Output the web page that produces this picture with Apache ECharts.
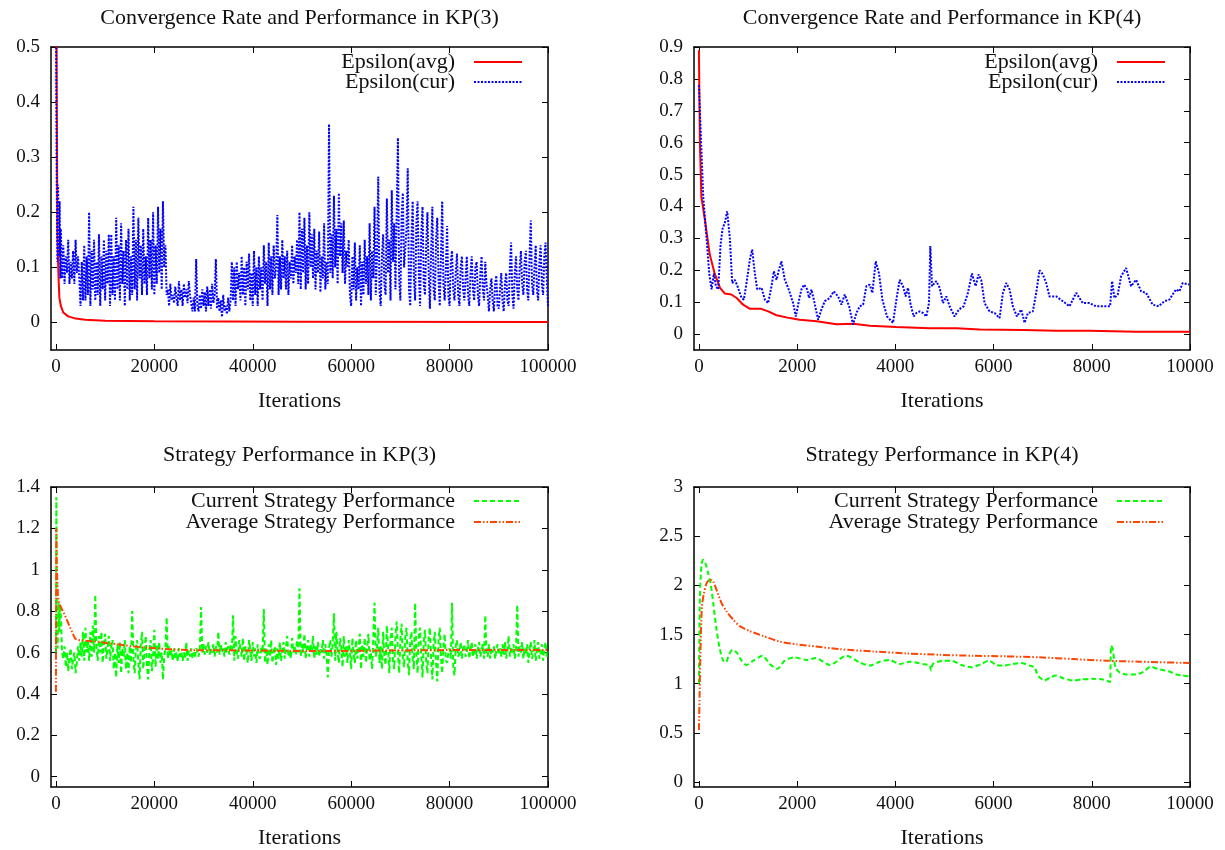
<!DOCTYPE html>
<html>
<head>
<meta charset="utf-8">
<script src="https://cdn.jsdelivr.net/npm/echarts@6/dist/echarts.min.js"></script>
<style>
html,body{margin:0;padding:0;background:#fff;}
#chart{width:1225px;height:850px;}
</style>
</head>
<body>
<div id="chart"></div>
<script>
// ---------------- DATA ----------------
const titles = [
  'Convergence Rate and Performance in KP(3)',
  'Convergence Rate and Performance in KP(4)',
  'Strategy Performance in KP(3)',
  'Strategy Performance in KP(4)'
];
const xName = 'Iterations';
const kp3XTicks = [0, 20000, 40000, 60000, 80000, 100000];
const kp4XTicks = [0, 2000, 4000, 6000, 8000, 10000];
const epsKp3YTicks = [0, 0.1, 0.2, 0.3, 0.4, 0.5];
const epsKp4YTicks = [0, 0.1, 0.2, 0.3, 0.4, 0.5, 0.6, 0.7, 0.8, 0.9];
const perfKp3YTicks = [0, 0.2, 0.4, 0.6, 0.8, 1, 1.2, 1.4];
const perfKp4YTicks = [0, 0.5, 1, 1.5, 2, 2.5, 3];

// KP(3) epsilon(avg)
const kp3AvgIter = [0,150,300,500,700,1000,1500,2500,4000,6000,10000,20000,50000,100000];
const kp3AvgVal  = [0.9,0.45,0.16,0.09,0.045,0.03,0.018,0.011,0.007,0.005,0.003,0.002,0.0015,0.001];

// KP(3) sampling grid for the noisy series: every 250 iterations from 1000
const kp3SampleStart = 1000;
const kp3SampleStep = 250;

// KP(3) epsilon(cur): first iterations, then sampled values (one row = 5000 iterations)
const kp3CurHeadIter = [0,150,300,450,600,750,900];
const kp3CurHeadVal  = [0.62,0.27,0.11,0.25,0.12,0.22,0.08];
const kp3CurVals = [
  0.17,0.08,0.14,0.07,0.12,0.09,0.15,0.07,0.11,0.08,0.13,0.07,0.15,0.09,0.12,0.08,0.03,0.11,0.04,0.14,
  0.04,0.12,0.05,0.20,0.03,0.13,0.06,0.15,0.04,0.11,0.05,0.16,0.03,0.12,0.06,0.15,0.04,0.13,0.07,0.16,
  0.03,0.16,0.05,0.12,0.04,0.19,0.06,0.14,0.04,0.18,0.07,0.13,0.03,0.15,0.06,0.17,0.04,0.12,0.05,0.21,
  0.06,0.15,0.04,0.19,0.08,0.14,0.05,0.17,0.07,0.12,0.05,0.19,0.08,0.15,0.06,0.20,0.05,0.14,0.07,0.21,
  0.09,0.17,0.06,0.22,0.10,0.14,0.05,0.06,0.03,0.07,0.04,0.05,0.035,0.065,0.045,0.03,0.075,0.04,0.06,0.03,
  0.07,0.045,0.06,0.035,0.075,0.05,0.035,0.02,0.045,0.02,0.115,0.03,0.02,0.05,0.025,0.06,0.03,0.055,0.02,0.065,
  0.03,0.06,0.025,0.07,0.035,0.05,0.115,0.025,0.045,0.02,0.04,0.01,0.05,0.02,0.03,0.015,0.045,0.02,0.04,0.11,
  0.04,0.1,0.03,0.11,0.06,0.09,0.04,0.12,0.05,0.1,0.03,0.11,0.06,0.125,0.04,0.09,0.03,0.13,0.05,0.1,
  0.03,0.12,0.06,0.1,0.04,0.14,0.07,0.11,0.03,0.145,0.06,0.12,0.05,0.14,0.08,0.1,0.195,0.05,0.12,0.06,
  0.15,0.08,0.12,0.06,0.13,0.05,0.11,0.08,0.14,0.07,0.12,0.09,0.15,0.07,0.2,0.06,0.17,0.09,0.19,0.06,
  0.14,0.07,0.2,0.1,0.16,0.08,0.17,0.06,0.13,0.09,0.165,0.055,0.12,0.08,0.18,0.06,0.11,0.07,0.36,0.09,
  0.16,0.08,0.23,0.1,0.17,0.07,0.235,0.12,0.18,0.09,0.185,0.07,0.13,0.1,0.15,0.05,0.03,0.12,0.06,0.145,
  0.04,0.1,0.06,0.14,0.03,0.11,0.05,0.15,0.07,0.12,0.05,0.18,0.04,0.13,0.08,0.21,0.05,0.12,0.265,0.06,
  0.03,0.12,0.16,0.07,0.05,0.225,0.09,0.15,0.04,0.24,0.11,0.18,0.06,0.2,0.335,0.08,0.04,0.19,0.235,0.1,
  0.1,0.17,0.28,0.06,0.03,0.15,0.22,0.08,0.04,0.18,0.22,0.09,0.03,0.16,0.21,0.07,0.05,0.14,0.2,0.09,
  0.025,0.13,0.21,0.06,0.04,0.15,0.19,0.08,0.03,0.12,0.22,0.07,0.04,0.1,0.175,0.05,0.03,0.11,0.13,0.06,
  0.04,0.09,0.125,0.05,0.03,0.1,0.12,0.06,0.04,0.08,0.12,0.05,0.03,0.09,0.12,0.06,0.04,0.1,0.11,0.05,
  0.03,0.09,0.12,0.06,0.04,0.11,0.07,0.05,0.02,0.06,0.08,0.04,0.02,0.07,0.085,0.03,0.025,0.06,0.09,0.04,
  0.02,0.07,0.09,0.04,0.03,0.1,0.145,0.05,0.025,0.09,0.12,0.06,0.04,0.1,0.13,0.07,0.05,0.11,0.13,0.06,
  0.04,0.12,0.185,0.07,0.05,0.1,0.14,0.06,0.04,0.11,0.14,0.07,0.05,0.12,0.145,0.08,0.03
];

// KP(4) epsilon(avg)
const kp4AvgIter = [0,20,50,120,220,320,430,530,660,770,900,1040,1270,1410,1580,1850,2050,2400,2800,3140,3480,4020,4700,5240,5720,6600,7280,7950,8900,10000];
const kp4AvgVal  = [0.89,0.6,0.43,0.36,0.25,0.19,0.145,0.127,0.124,0.113,0.092,0.079,0.079,0.071,0.059,0.050,0.045,0.040,0.031,0.032,0.026,0.022,0.018,0.018,0.014,0.013,0.010,0.010,0.007,0.007];

// KP(4) epsilon(cur)
const kp4CurIter = [0,88,156,210,258,305,346,393,441,481,529,576,630,678,732,786,868,915,970,1037,1085,1139,1187,1275,1342,1410,1478,1526,1580,1627,1681,1749,1817,1919,1973,2041,2088,2142,2204,2244,2292,2339,2427,2495,2563,2665,2746,2834,2902,2970,3058,3139,3207,3275,3343,3410,3478,3532,3600,3668,3736,3831,3953,4021,4088,4156,4210,4258,4305,4373,4427,4495,4563,4631,4685,4712,4746,4834,4902,4970,5038,5105,5207,5295,5390,5478,5560,5634,5695,5749,5817,5919,6021,6122,6190,6258,6326,6394,6475,6563,6631,6699,6800,6868,6936,7004,7072,7139,7275,7411,7546,7682,7817,7953,8089,8292,8373,8414,8461,8529,8597,8699,8800,8902,9004,9106,9241,9363,9478,9580,9716,9784,9851,9987];
const kp4CurVal  = [0.78,0.43,0.30,0.19,0.14,0.19,0.15,0.14,0.28,0.33,0.35,0.385,0.30,0.16,0.17,0.15,0.113,0.108,0.16,0.234,0.265,0.19,0.14,0.145,0.108,0.097,0.15,0.197,0.17,0.20,0.228,0.17,0.145,0.097,0.055,0.108,0.14,0.155,0.14,0.113,0.14,0.108,0.045,0.077,0.103,0.113,0.134,0.118,0.092,0.124,0.087,0.03,0.066,0.087,0.092,0.15,0.155,0.129,0.228,0.19,0.108,0.055,0.035,0.108,0.17,0.15,0.118,0.145,0.097,0.055,0.066,0.071,0.066,0.055,0.097,0.276,0.15,0.166,0.145,0.097,0.118,0.087,0.055,0.077,0.087,0.129,0.19,0.15,0.187,0.17,0.097,0.071,0.066,0.05,0.129,0.16,0.14,0.087,0.055,0.077,0.035,0.066,0.071,0.129,0.2,0.187,0.16,0.118,0.118,0.103,0.087,0.129,0.097,0.097,0.087,0.087,0.087,0.166,0.113,0.124,0.181,0.207,0.15,0.17,0.134,0.129,0.092,0.087,0.103,0.108,0.14,0.134,0.16,0.155];

// KP(3) current strategy performance: first iterations, then sampled values (one row = 5000 iterations)
const kp3PerfCurHeadIter = [0,80,200,350,500,700,850];
const kp3PerfCurHeadVal  = [0.6,1.35,0.75,0.62,0.84,0.7,0.83];
const kp3PerfCurVals = [
  0.78,0.6,0.57,0.63,0.53,0.6,0.51,0.58,0.62,0.52,0.57,0.6,0.5,0.55,0.63,0.56,0.65,0.58,0.7,0.56,
  0.72,0.6,0.66,0.56,0.7,0.58,0.73,0.6,0.88,0.62,0.56,0.68,0.6,0.7,0.55,0.64,0.69,0.57,0.62,0.68,
  0.56,0.63,0.66,0.52,0.6,0.48,0.64,0.55,0.65,0.5,0.62,0.58,0.66,0.52,0.6,0.5,0.63,0.55,0.8,0.57,
  0.5,0.62,0.66,0.55,0.47,0.64,0.7,0.52,0.6,0.68,0.54,0.47,0.62,0.66,0.51,0.58,0.71,0.53,0.64,0.57,
  0.65,0.55,0.6,0.47,0.58,0.62,0.77,0.57,0.63,0.58,0.61,0.56,0.62,0.57,0.6,0.555,0.62,0.58,0.6,0.56,
  0.6,0.57,0.65,0.56,0.61,0.58,0.62,0.57,0.6,0.58,0.62,0.6,0.58,0.62,0.82,0.6,0.64,0.59,0.63,0.6,
  0.65,0.59,0.62,0.6,0.64,0.58,0.63,0.6,0.7,0.59,0.64,0.6,0.62,0.58,0.65,0.6,0.63,0.59,0.64,0.6,
  0.78,0.56,0.68,0.6,0.57,0.66,0.62,0.58,0.67,0.56,0.63,0.6,0.55,0.66,0.61,0.56,0.65,0.58,0.62,0.55,
  0.64,0.58,0.57,0.63,0.6,0.81,0.55,0.62,0.54,0.64,0.58,0.66,0.55,0.6,0.63,0.54,0.62,0.57,0.65,0.56,
  0.6,0.65,0.57,0.63,0.68,0.58,0.61,0.57,0.67,0.6,0.63,0.59,0.66,0.6,0.91,0.58,0.64,0.6,0.69,0.57,
  0.62,0.66,0.58,0.64,0.6,0.68,0.57,0.63,0.59,0.65,0.58,0.62,0.6,0.66,0.57,0.64,0.6,0.48,0.62,0.66,
  0.58,0.64,0.79,0.56,0.7,0.6,0.55,0.67,0.62,0.53,0.68,0.58,0.63,0.55,0.66,0.6,0.52,0.67,0.59,0.55,
  0.66,0.57,0.62,0.69,0.52,0.64,0.58,0.67,0.55,0.62,0.69,0.56,0.6,0.52,0.67,0.84,0.58,0.62,0.72,0.55,
  0.63,0.52,0.7,0.58,0.54,0.73,0.62,0.5,0.67,0.72,0.56,0.52,0.68,0.75,0.6,0.5,0.66,0.74,0.57,0.53,
  0.68,0.72,0.55,0.49,0.66,0.7,0.57,0.52,0.84,0.6,0.5,0.68,0.72,0.58,0.48,0.65,0.71,0.55,0.5,0.67,
  0.72,0.57,0.47,0.64,0.7,0.55,0.46,0.66,0.72,0.58,0.5,0.63,0.69,0.56,0.55,0.6,0.62,0.57,0.84,0.52,
  0.49,0.63,0.66,0.58,0.6,0.65,0.57,0.62,0.64,0.58,0.6,0.66,0.57,0.61,0.65,0.58,0.6,0.64,0.57,0.62,
  0.65,0.58,0.61,0.64,0.57,0.78,0.6,0.58,0.64,0.57,0.62,0.6,0.63,0.57,0.61,0.64,0.59,0.62,0.58,0.64,
  0.59,0.65,0.57,0.61,0.68,0.58,0.62,0.6,0.64,0.57,0.61,0.83,0.58,0.63,0.6,0.65,0.57,0.62,0.59,0.64,
  0.55,0.62,0.65,0.57,0.6,0.66,0.56,0.61,0.65,0.57,0.6,0.64,0.56,0.62,0.65,0.58,0.6
];

// KP(3) average strategy performance
const kp3PerfAvgIter = [0,80,200,400,600,1000,1900,2900,3900,4600,8000,11400,14700,18100,22900,28300,40000,50000,60000,70000,80000,90000,100000];
const kp3PerfAvgVal  = [0.41,1.2,1.0,0.88,0.84,0.82,0.776,0.72,0.667,0.66,0.653,0.643,0.632,0.624,0.616,0.611,0.61,0.607,0.608,0.61,0.612,0.612,0.612];

// KP(4) current strategy performance
const kp4PerfCurIter = [0,20,54,88,136,190,237,292,359,427,495,549,617,685,766,868,970,1105,1295,1444,1593,1749,1953,2190,2380,2665,3004,3275,3478,3682,3885,4088,4292,4563,4698,4726,4766,4970,5139,5343,5546,5749,5905,6055,6190,6394,6563,6733,6834,6902,7038,7173,7275,7411,7614,7783,8021,8224,8346,8373,8394,8427,8482,8563,8699,8902,9038,9207,9343,9580,9716,9851,9987];
const kp4PerfCurVal  = [1.0,1.886,2.22,2.26,2.22,2.12,2.02,1.82,1.55,1.35,1.234,1.217,1.30,1.344,1.318,1.234,1.19,1.234,1.284,1.20,1.15,1.234,1.268,1.241,1.261,1.19,1.284,1.217,1.184,1.224,1.241,1.20,1.224,1.20,1.184,1.134,1.20,1.234,1.234,1.19,1.167,1.20,1.234,1.19,1.184,1.20,1.21,1.184,1.167,1.084,1.033,1.067,1.084,1.057,1.033,1.043,1.05,1.043,1.023,1.017,1.385,1.35,1.167,1.117,1.094,1.094,1.117,1.174,1.15,1.124,1.094,1.084,1.074];

// KP(4) average strategy performance
const kp4PerfAvgIter = [0,14,34,61,102,156,224,292,359,461,563,698,834,1037,1309,1648,1987,2393,2868,3546,4224,4902,5580,6258,6936,7614,8292,8970,9987];
const kp4PerfAvgVal  = [0.53,0.883,1.385,1.786,1.92,2.02,2.06,2.037,1.953,1.82,1.736,1.652,1.585,1.535,1.485,1.428,1.401,1.378,1.351,1.328,1.308,1.294,1.284,1.278,1.268,1.251,1.234,1.224,1.211];

const seriesNames = {
  epsAvg: 'Epsilon(avg)', epsCur: 'Epsilon(cur)',
  perfCur: 'Current Strategy Performance', perfAvg: 'Average Strategy Performance'
};

// ---------------- BUILD ----------------
function pairs(xs, ys) { return xs.map((x, i) => [x, ys[i]]); }
function sampled(headX, headY, start, step, vals) {
  return pairs(headX, headY).concat(vals.map((v, i) => [start + i * step, v]));
}

const FONT = 'Liberation Serif';
const TXT = '#111';
const FS_NUM = 19;
const FS_TXT = 22;

const grids = [
  { left: 51, top: 47, width: 497, height: 303 },
  { left: 694, top: 47, width: 496, height: 303 },
  { left: 51, top: 487, width: 497, height: 302 },
  { left: 694, top: 487, width: 496, height: 302 }
];
const xRanges = [[-1000, 100000, kp3XTicks], [-100, 10000, kp4XTicks], [-1000, 100000, kp3XTicks], [-100, 10000, kp4XTicks]];
const yRanges = [[-0.05, 0.5, epsKp3YTicks], [-0.05, 0.9, epsKp4YTicks], [-0.05, 1.4, perfKp3YTicks], [-0.05, 3, perfKp4YTicks]];

const xAxis = [], yAxis = [];
grids.forEach((g, i) => {
  const [xmin, xmax, xt] = xRanges[i];
  const [ymin, ymax, yt] = yRanges[i];
  const lineStyle = { color: '#000', width: 1.5 };
  ['bottom', 'top'].forEach((pos, k) => {
    xAxis.push({
      type: 'value', gridIndex: i, position: pos, min: xmin, max: xmax,
      name: k === 0 ? xName : '', nameLocation: 'middle', nameGap: 40,
      nameTextStyle: { fontFamily: FONT, fontSize: FS_TXT, color: TXT },
      axisLine: { show: true, onZero: false, lineStyle },
      axisTick: { show: true, inside: true, length: 6, customValues: xt, lineStyle: { color: '#000', width: 1 } },
      axisLabel: { show: k === 0, customValues: xt, margin: 8, fontFamily: FONT, fontSize: FS_NUM, color: TXT,
                   formatter: v => String(v) },
      splitLine: { show: false }
    });
  });
  ['left', 'right'].forEach((pos, k) => {
    yAxis.push({
      type: 'value', gridIndex: i, position: pos, min: ymin, max: ymax,
      axisLine: { show: true, onZero: false, lineStyle },
      axisTick: { show: true, inside: true, length: 6, customValues: yt, lineStyle: { color: '#000', width: 1 } },
      axisLabel: { show: k === 0, customValues: yt, margin: 11, fontFamily: FONT, fontSize: FS_NUM, color: TXT,
                   formatter: v => String(v) },
      splitLine: { show: false }
    });
  });
});

function line(name, gi, data, color, width, type, extra) {
  return Object.assign({
    type: 'line', name, xAxisIndex: gi * 2, yAxisIndex: gi * 2, data,
    symbol: 'none', showSymbol: false, clip: true, animation: false,
    lineStyle: { color, width, type }, itemStyle: { color }
  }, extra || {});
}

const RED = '#ff0000', BLUE = '#0000ff', GREEN = '#00ff00', ORANGE = '#ff4500';
const DOT = [2, 1.5], DASH = [5, 3], DASHDOT = [7, 2, 1.5, 2, 1.5, 2];

const series = [
  line(seriesNames.epsAvg, 0, pairs(kp3AvgIter, kp3AvgVal), RED, 2, 'solid'),
  line(seriesNames.epsCur, 0, sampled(kp3CurHeadIter, kp3CurHeadVal, kp3SampleStart, kp3SampleStep, kp3CurVals), BLUE, 2, DOT),
  line(seriesNames.epsAvg, 1, pairs(kp4AvgIter, kp4AvgVal), RED, 2, 'solid'),
  line(seriesNames.epsCur, 1, pairs(kp4CurIter, kp4CurVal), BLUE, 2, DOT),
  line(seriesNames.perfCur, 2, sampled(kp3PerfCurHeadIter, kp3PerfCurHeadVal, kp3SampleStart, kp3SampleStep, kp3PerfCurVals), GREEN, 2, DASH),
  line(seriesNames.perfAvg, 2, pairs(kp3PerfAvgIter, kp3PerfAvgVal), ORANGE, 2, DASHDOT),
  line(seriesNames.perfCur, 3, pairs(kp4PerfCurIter, kp4PerfCurVal), GREEN, 2, DASH, { smooth: 0.25 }),
  line(seriesNames.perfAvg, 3, pairs(kp4PerfAvgIter, kp4PerfAvgVal), ORANGE, 2, DASHDOT, { smooth: 0.25 })
];

const titleCenters = [[299.5, 7], [942, 7], [299.5, 444], [942, 444]];
const title = titles.map((t, i) => ({
  text: t, left: titleCenters[i][0], top: titleCenters[i][1], textAlign: 'center', padding: 0,
  textStyle: { fontFamily: FONT, fontSize: FS_TXT, fontWeight: 'normal', color: TXT }
}));

const legendSpecs = [
  [seriesNames.epsAvg, 702, 51], [seriesNames.epsCur, 702, 71],
  [seriesNames.epsAvg, 59, 51], [seriesNames.epsCur, 59, 71],
  [seriesNames.perfCur, 702, 490], [seriesNames.perfAvg, 702, 511],
  [seriesNames.perfCur, 59, 490], [seriesNames.perfAvg, 59, 511]
];
const legend = legendSpecs.map(([n, r, t]) => ({
  data: [n], right: r, top: t, align: 'right', orient: 'vertical', padding: 0,
  itemWidth: 48, itemHeight: 14, selectedMode: false,
  itemStyle: { opacity: 0, borderWidth: 0 },
  lineStyle: { width: 2 },
  textStyle: { fontFamily: FONT, fontSize: FS_TXT, color: TXT, padding: [0, 14, 0, 0] }
}));

const chart = echarts.init(document.getElementById('chart'), null, { renderer: 'canvas' });
chart.setOption({
  backgroundColor: '#fff',
  animation: false,
  title, legend, grid: grids, xAxis, yAxis, series
});
</script>
</body>
</html>
